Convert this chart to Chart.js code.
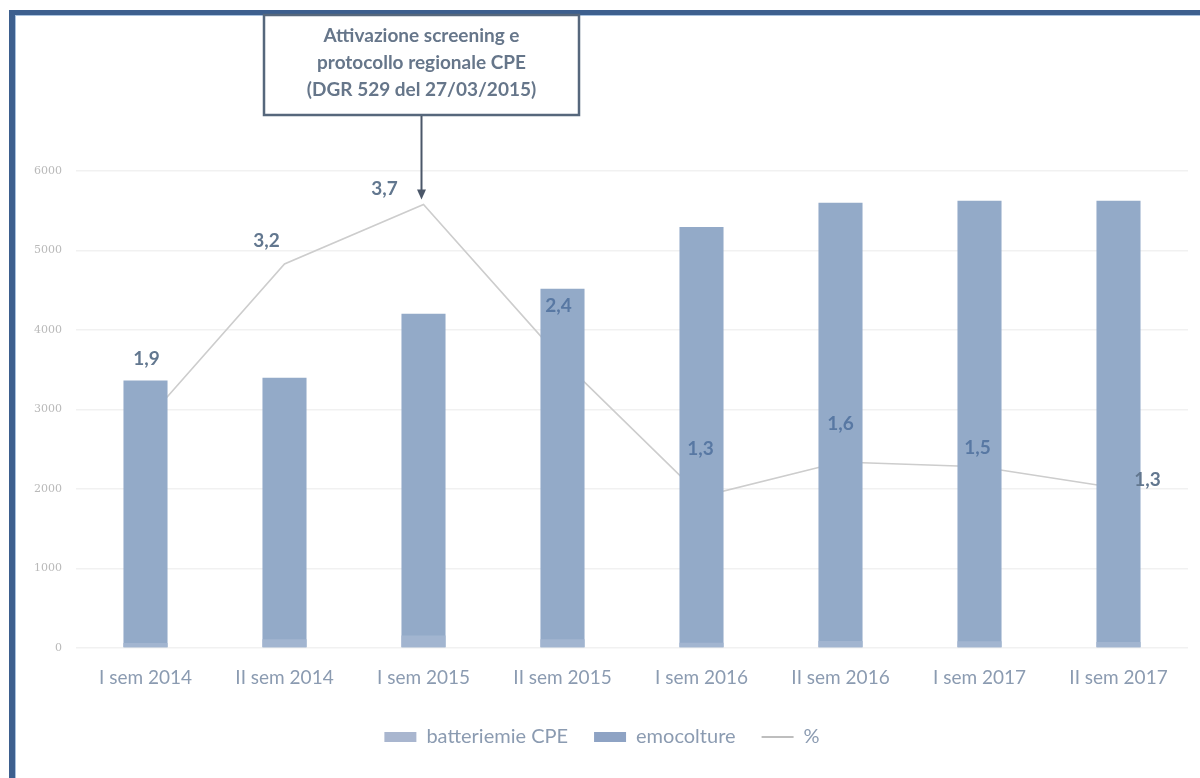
<!DOCTYPE html>
<html>
<head>
<meta charset="utf-8">
<script src="https://cdn.jsdelivr.net/npm/chart.js@4.4.1/dist/chart.umd.min.js"></script>
<style>
  html, body { margin: 0; padding: 0; background: #ffffff; }
  #wrap { position: relative; width: 1200px; height: 778px; }
</style>
</head>
<body>
<div id="wrap"><canvas id="c" width="1200" height="778"></canvas></div>
<script>
// ---- data ----
const categories = ["I sem 2014", "II sem 2014", "I sem 2015", "II sem 2015", "I sem 2016", "II sem 2016", "I sem 2017", "II sem 2017"];
const emocolture = [3365, 3400, 4205, 4520, 5295, 5600, 5625, 5625];
const batteriemieCPE = [64, 109, 156, 109, 67, 88, 85, 75];
const percentuale = [1.9, 3.22, 3.72, 2.41, 1.27, 1.56, 1.52, 1.34];
const yTicks = [0, 1000, 2000, 3000, 4000, 5000, 6000];
const annotationLines = ["Attivazione screening e", "protocollo regionale CPE", "(DGR 529 del 27/03/2015)"];
const annotationIndex = 2;

// label offsets (style only)
const labelOffsets = [[1, -63], [-18, -23], [-39, -16], [-4, -55], [-1, -48], [0, -38], [-2, -19], [29, -8]];

const FONT = "Lato, 'Open Sans', sans-serif";

const framePlugin = {
  id: 'frame',
  beforeDraw(chart) {
    const ctx = chart.ctx;
    ctx.save();
    ctx.fillStyle = '#ffffff';
    ctx.fillRect(0, 0, chart.width, chart.height);
    ctx.fillStyle = '#3d5f8e';
    ctx.fillRect(9, 10, 1191, 5);
    ctx.fillRect(9, 10, 6, 768);
    ctx.fillStyle = '#a9c2de';
    ctx.fillRect(15, 15, 1185, 1);
    ctx.fillRect(15, 15, 1, 763);
    ctx.restore();
  }
};

const labelsPlugin = {
  id: 'pctLabels',
  afterDatasetsDraw(chart) {
    const idx = chart.data.datasets.findIndex(d => d.yAxisID === 'y2');
    const meta = chart.getDatasetMeta(idx);
    const ctx = chart.ctx;
    ctx.save();
    ctx.font = "bold 19px " + FONT;
    ctx.textAlign = 'center';
    ctx.textBaseline = 'middle';
    meta.data.forEach((pt, i) => {
      const v = chart.data.datasets[idx].data[i];
      const txt = v.toFixed(1).replace('.', ',');
      const o = labelOffsets[i];
      ctx.fillStyle = (i >= 3 && i <= 6) ? '#5878a3' : '#62778f';
      ctx.fillText(txt, pt.x + o[0], pt.y + o[1]);
    });
    ctx.restore();
  }
};

const annotationPlugin = {
  id: 'annot',
  afterDraw(chart) {
    const ctx = chart.ctx;
    const x = chart.scales.x.getPixelForValue(annotationIndex);
    const pIdx = chart.data.datasets.findIndex(d => d.yAxisID === 'y2');
    const pt = chart.getDatasetMeta(pIdx).data[annotationIndex];
    const w = 315, top = 15, bottom = 115;
    const left = x - w / 2 - 2;
    ctx.save();
    ctx.fillStyle = '#ffffff';
    ctx.fillRect(left, top, w, bottom - top);
    ctx.strokeStyle = '#56677c';
    ctx.lineWidth = 2.5;
    ctx.strokeRect(left, top, w, bottom - top);
    ctx.fillStyle = '#66768a';
    ctx.font = "bold 19px " + FONT;
    ctx.textAlign = 'center';
    ctx.textBaseline = 'middle';
    const cx = left + w / 2;
    annotationLines.forEach((t, i) => ctx.fillText(t, cx, 36 + i * 27));
    // arrow
    const tipY = pt.y - 5;
    ctx.strokeStyle = '#4b5769';
    ctx.lineWidth = 2;
    ctx.beginPath();
    ctx.moveTo(x - 2, bottom + 1);
    ctx.lineTo(x - 2, tipY - 8);
    ctx.stroke();
    ctx.fillStyle = '#4b5769';
    ctx.beginPath();
    ctx.moveTo(x - 6.5, tipY - 10);
    ctx.lineTo(x + 2.5, tipY - 10);
    ctx.lineTo(x - 2, tipY);
    ctx.closePath();
    ctx.fill();
    ctx.restore();
  }
};

const ctx = document.getElementById('c').getContext('2d');
new Chart(ctx, {
  data: {
    labels: categories,
    datasets: [
      {
        type: 'bar',
        label: 'batteriemie CPE',
        data: batteriemieCPE,
        backgroundColor: '#a2b5d0',
        yAxisID: 'y',
        order: 1,
        categoryPercentage: 1,
        barPercentage: 0.317
      },
      {
        type: 'bar',
        label: 'emocolture',
        data: emocolture,
        backgroundColor: '#93aac8',
        yAxisID: 'y',
        order: 2,
        categoryPercentage: 1,
        barPercentage: 0.317
      },
      {
        type: 'line',
        label: '%',
        data: percentuale,
        borderColor: '#cdcdcd',
        borderWidth: 1.6,
        pointRadius: 0,
        tension: 0,
        fill: false,
        yAxisID: 'y2',
        order: 3
      }
    ]
  },
  options: {
    responsive: false,
    animation: false,
    devicePixelRatio: 1,
    layout: { padding: { left: 16, right: 12, top: 171, bottom: 21 } },
    plugins: {
      tooltip: { enabled: false },
      legend: {
        position: 'bottom',
        labels: {
          color: '#8b9bb1',
          font: { family: FONT, size: 20 },
          usePointStyle: true,
          pointStyleWidth: 32,
          boxWidth: 32,
          boxHeight: 10,
          padding: 26,
          generateLabels(chart) {
            const items = Chart.defaults.plugins.legend.labels.generateLabels(chart);
            items.forEach(it => {
              const ds = chart.data.datasets[it.datasetIndex];
              if (ds.type === 'line') {
                it.pointStyle = 'line';
                it.strokeStyle = '#a9a9a9';
                it.lineWidth = 1.5;
              } else {
                it.pointStyle = 'rect';
                it.lineWidth = 0;
                it.fillStyle = ds.label === 'emocolture' ? '#8ea3c4' : '#a9b6cf';
              }
            });
            return items;
          }
        }
      }
    },
    scales: {
      x: {
        stacked: true,
        grid: { display: false },
        border: { display: false },
        ticks: { color: '#8b9bb1', font: { family: FONT, size: 19 }, padding: 10, maxRotation: 0 },
        afterFit(s) { s.height = 53; }
      },
      y: {
        stacked: false,
        min: 0,
        max: 6000,
        afterBuildTicks(s) { s.ticks = yTicks.map(v => ({ value: v })); },
        grid: { color: '#f1f1f1', lineWidth: 1.5, drawTicks: false },
        border: { display: false },
        ticks: {
          color: '#b9b9b9',
          font: { family: "'DejaVu Serif', serif", size: 11 },
          padding: 14,
          callback: v => String(v)
        },
        afterFit(s) { s.width = 60; }
      },
      y2: {
        display: false,
        min: 0,
        max: 4
      }
    }
  },
  plugins: [framePlugin, labelsPlugin, annotationPlugin]
});
</script>
</body>
</html>
